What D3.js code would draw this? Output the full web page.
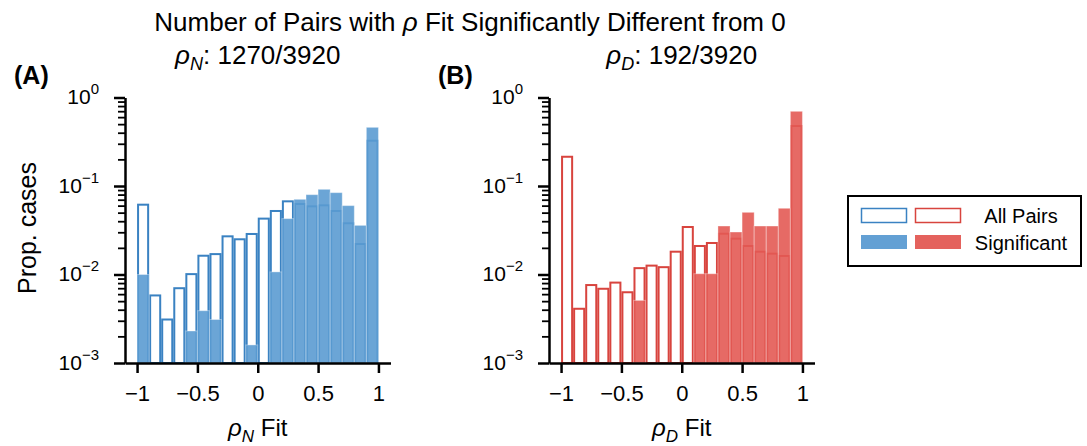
<!DOCTYPE html>
<html>
<head>
<meta charset="utf-8">
<script src="https://cdn.jsdelivr.net/npm/d3@7"></script>
<style>
  html, body { margin: 0; padding: 0; background: #fff; }
  svg { display: block; font-family: "Liberation Sans", Arial, Helvetica, sans-serif; }
</style>
</head>
<body>
<svg id="chart" width="1087" height="446"></svg>
<script>
// --- data ---
const binLeft = [-1, -0.9, -0.8, -0.7, -0.6, -0.5, -0.4, -0.3, -0.2, -0.1, 0, 0.1, 0.2, 0.3, 0.4, 0.5, 0.6, 0.7, 0.8, 0.9];
const binWidth = 0.1;

// rho_N panel
const nAll = [0.0615, 0.0058, 0.0031, 0.0070, 0.0101, 0.0163, 0.0170, 0.0270, 0.0250, 0.0287, 0.0428, 0.0522, 0.0671, 0.0626, 0.0589, 0.0605, 0.0522, 0.0379, 0.0221, 0.325];
const nSig = [0.0100, 0, 0, 0, 0.0023, 0.0039, 0.0031, 0, 0, 0.0016, 0, 0.0107, 0.0428, 0.0707, 0.0798, 0.0917, 0.0841, 0.0600, 0.0359, 0.460];
// rho_D panel
const dAll = [0.214, 0.0041, 0.0076, 0.0069, 0.0081, 0.0063, 0.0118, 0.0126, 0.0121, 0.0181, 0.0344, 0.0210, 0.0227, 0.0289, 0.0254, 0.0210, 0.0181, 0.0172, 0.0162, 0.476];
const dSig = [0, 0, 0, 0, 0, 0, 0.0051, 0, 0, 0, 0, 0.0102, 0.0102, 0.0353, 0.0302, 0.0504, 0.0353, 0.0353, 0.0560, 0.698];

const xTicks = [-1, -0.5, 0, 0.5, 1];
const xTickLabels = ["\u22121", "\u22120.5", "0", "0.5", "1"];
const yTicks = [1e-3, 1e-2, 1e-1, 1];
const yTickExp = ["\u22123", "\u22122", "\u22121", "0"];

const panels = [
  { letter: "(A)", sub: "N", count: "1270/3920", all: nAll, sig: nSig,
    line: "#3a82c2", fill: "#5b9bd2", ox: 0 },
  { letter: "(B)", sub: "D", count: "192/3920", all: dAll, sig: dSig,
    line: "#d8443e", fill: "#e35a54", ox: 424 }
];

const svg = d3.select("#chart");

// main title
const title = svg.append("text")
  .attr("x", 470).attr("y", 31)
  .attr("text-anchor", "middle")
  .style("font-size", "26px");
title.append("tspan").text("Number of Pairs with ");
title.append("tspan").style("font-style", "italic").text("\u03c1");
title.append("tspan").text(" Fit Significantly Different from 0");

panels.forEach((p) => {
  const x = d3.scaleLinear().domain([-1.1, 1.1]).range([125 + p.ox, 390.5 + p.ox]);
  const y = d3.scaleLog().domain([1e-3, 1]).range([363, 97.5]);
  const g = svg.append("g");

  // panel letter
  g.append("text")
    .attr("x", 14 + p.ox).attr("y", 84)
    .style("font-size", "25px").style("font-weight", "bold")
    .text(p.letter);

  // panel subtitle: rho_X: count
  const st = g.append("text")
    .attr("x", x(0)).attr("y", 64)
    .attr("text-anchor", "middle")
    .style("font-size", "26px");
  st.append("tspan").style("font-style", "italic").text("\u03c1");
  st.append("tspan").style("font-style", "italic").style("font-size", "18px")
    .attr("dy", 6).text(p.sub);
  st.append("tspan").attr("dy", -6).text(": " + p.count);

  // all pairs: outlined bars
  g.selectAll(".all")
    .data(binLeft.map((b, i) => ({ b, v: p.all[i] })).filter(d => d.v > 0))
    .join("rect")
    .attr("class", "all")
    .attr("x", d => x(d.b) + 1)
    .attr("width", d => x(d.b + binWidth) - x(d.b) - 2)
    .attr("y", d => y(d.v))
    .attr("height", d => y(1e-3) - y(d.v))
    .attr("fill", "none")
    .attr("stroke", p.line)
    .attr("stroke-width", 2);

  // significant: filled bars
  g.selectAll(".sig")
    .data(binLeft.map((b, i) => ({ b, v: p.sig[i] })).filter(d => d.v > 0))
    .join("rect")
    .attr("class", "sig")
    .attr("x", d => x(d.b))
    .attr("width", d => x(d.b + binWidth) - x(d.b))
    .attr("y", d => y(d.v))
    .attr("height", d => y(1e-3) - y(d.v))
    .attr("fill", p.fill)
    .attr("fill-opacity", 0.9)
    .attr("stroke", "#ffffff")
    .attr("stroke-opacity", 0.35)
    .attr("stroke-width", 1);

  // x axis
  const xAxis = g.append("g")
    .attr("transform", `translate(0, ${y(1e-3)})`)
    .call(d3.axisBottom(x).tickValues(xTicks).tickSize(10).tickSizeOuter(0)
      .tickFormat((d, i) => xTickLabels[i]));
  xAxis.select(".domain").attr("stroke-width", 2.5);
  xAxis.selectAll(".tick line").attr("stroke-width", 2.5);
  xAxis.selectAll(".tick text").attr("y", 22).style("font-size", "22px").attr("fill", "#000");

  // y axis with log minor ticks
  const minor = [];
  [1e-3, 1e-2, 1e-1].forEach(dec => { for (let k = 2; k <= 9; k++) minor.push(dec * k); });
  const yMinor = g.append("g").attr("transform", `translate(${x(-1.1)}, 0)`)
    .call(d3.axisLeft(y).tickValues(minor).tickSize(7).tickFormat(""));
  yMinor.select(".domain").remove();
  yMinor.selectAll(".tick line").attr("stroke-width", 1.8);

  const yAxis = g.append("g").attr("transform", `translate(${x(-1.1)}, 0)`)
    .call(d3.axisLeft(y).tickValues(yTicks).tickSize(11).tickSizeOuter(0).tickFormat(""));
  yAxis.select(".domain").attr("stroke-width", 2.5);
  yAxis.selectAll(".tick line").attr("stroke-width", 2.5);
  yAxis.selectAll(".tick").each(function(d, i) {
    const t = d3.select(this).append("text")
      .attr("x", -26).attr("y", 6)
      .attr("text-anchor", "end")
      .attr("fill", "#000")
      .style("font-size", "21px");
    t.append("tspan").text("10");
    t.append("tspan").attr("dy", -10).style("font-size", "15px").text(yTickExp[i]);
  });

  // x label
  const xl = g.append("text")
    .attr("x", x(0)).attr("y", 436)
    .attr("text-anchor", "middle")
    .style("font-size", "24px");
  xl.append("tspan").style("font-style", "italic").text("\u03c1");
  xl.append("tspan").style("font-style", "italic").style("font-size", "17px")
    .attr("dy", 6).text(p.sub);
  xl.append("tspan").attr("dy", -6).text(" Fit");
});

// y label
svg.append("text")
  .attr("transform", "translate(36, 228) rotate(-90)")
  .attr("text-anchor", "middle")
  .style("font-size", "25px")
  .text("Prop. cases");

// legend
const lg = svg.append("g");
lg.append("rect")
  .attr("x", 848).attr("y", 196).attr("width", 233).attr("height", 70)
  .attr("fill", "#fff").attr("stroke", "#000").attr("stroke-width", 2);
panels.forEach((p, i) => {
  const sx = 861 + i * 54;
  lg.append("rect")
    .attr("x", sx + 0.5).attr("y", 208.5).attr("width", 45).attr("height", 14)
    .attr("fill", "none").attr("stroke", p.line).attr("stroke-width", 1.5);
  lg.append("rect")
    .attr("x", sx).attr("y", 235).attr("width", 46).attr("height", 14)
    .attr("fill", p.fill).attr("fill-opacity", 0.95);
});
lg.append("text").attr("x", 1021).attr("y", 223).attr("text-anchor", "middle")
  .style("font-size", "20px").text("All Pairs");
lg.append("text").attr("x", 1021).attr("y", 250).attr("text-anchor", "middle")
  .style("font-size", "20px").text("Significant");
</script>
</body>
</html>
